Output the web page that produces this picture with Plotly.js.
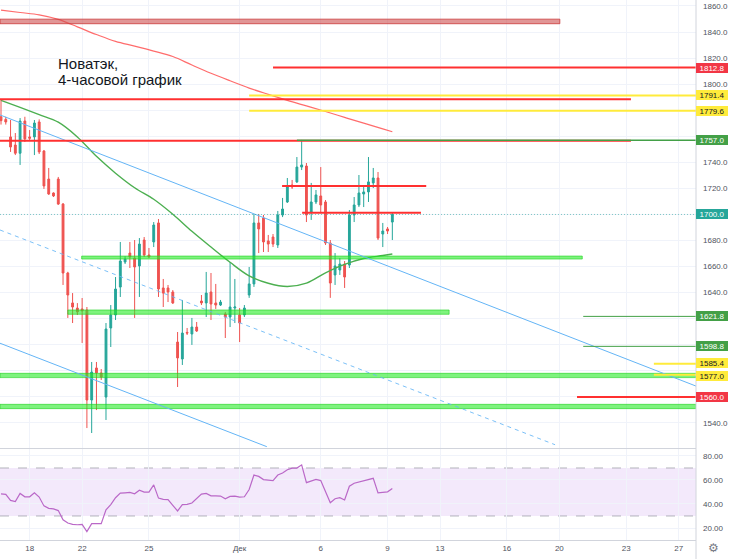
<!DOCTYPE html>
<html><head><meta charset="utf-8">
<script src="https://cdn.plot.ly/plotly-3.0.1.min.js"></script>
<style>html,body{margin:0;padding:0;background:#fff;}#chart{width:730px;height:559px;}</style>
</head><body><div id="chart"></div>
<script>
// ---- data (4h candles, Novatek) ----
const dayLabels = ['18','22','25','Дек','6','9','13','16','20','23','27'];
const dayBar    = [6,17,31,50,67,81,92,106,117,131,142];
const priceTicks = [1860,1840,1820,1800,1740,1720,1680,1660,1640,1540];
const rsiTicks = [20,40,60,80];

const open  = [1775,1773,1759.5,1753.3,1747,1771.7,1759.5,1759.5,1771,1748.7,1727.2,1716.5,1727.2,1708,1655.1,1632.1,1628.2,1627.5,1626.7,1557.6,
  1582.2,1578.4,1559.9,1612.9,1622.9,1644.3,1663.5,1670.4,1666.6,1660.5,1680.4,1668.9,1678.9,1693.5,1643.6,1643.6,1640.5,1602.1,1589.1,1609.5,
  1608.3,1613.6,1633.6,1632.1,1640.5,1632.1,1630.5,1623.6,1621.3,1628.2,1622.9,1622.9,1638.2,1646.7,1693.5,1697.3,1679.7,1682.7,1676.6,1699.6,
  1709.6,1722.6,1725,1736.4,1737.2,1701.9,1709.6,1714.2,1709.6,1678.1,1653.6,1657.4,1662,1661.2,1699.6,1707.3,1715.7,1717.3,1724.2,1728,
  1685,1688.9,1694.2];
const high  = [1788,1775,1772.5,1762.5,1774,1775,1764.8,1772.5,1773,1749.5,1735.7,1717,1728.8,1708.8,1656,1639.7,1632,1635.9,1629,1586.8,
  1586.8,1581.4,1616.7,1630.5,1652,1678.9,1668,1678.9,1680.4,1681.9,1682.7,1674.3,1694.2,1696.5,1650.5,1645.9,1642,1609.8,1634.4,1612.9,
  1620.6,1617.5,1638.2,1655.9,1655.1,1646.7,1634.4,1625.2,1663.5,1650.5,1628.2,1630.5,1659.7,1700.4,1700.4,1699.6,1684.3,1685,1702.7,1712.7,
  1728,1726.5,1744.1,1757.2,1739.5,1724.2,1718.8,1736.4,1711.1,1680.4,1670.4,1666.6,1664.3,1703.4,1713.4,1730.3,1722.6,1744.1,1735.7,1732.6,
  1693.5,1690.4,1701.2];
const low   = [1769,1769,1748,1745.6,1738,1755.6,1757,1745.6,1746.4,1719.6,1715,1713.4,1707.3,1645.9,1620.6,1616.7,1622.9,1601.4,1536.1,1532.3,
  1549.9,1573,1542.3,1598.3,1619,1636.7,1662,1658.9,1620.6,1636.7,1667.4,1666.6,1675,1636.7,1629,1632.8,1631.3,1567.6,1584.5,1607.5,
  1599.9,1609.8,1630.5,1621.3,1619,1627.5,1629.8,1605.2,1613.6,1616.7,1602.1,1621.3,1636,1644.4,1670.4,1671.2,1671.2,1675,1674.3,1698,
  1708.8,1719.6,1724.2,1734.1,1694.2,1695.8,1708,1701.9,1676.6,1636,1645.9,1653.6,1643.6,1658.9,1694.2,1705.7,1705.7,1709.6,1720.3,1680.4,
  1675,1685,1680.4];
const close = [1772,1771,1751.8,1747,1771.7,1758,1758.5,1770.2,1748,1721.9,1715.7,1714.2,1708,1655.1,1638.2,1629,1625.2,1626,1557.6,1579.1,
  1578.4,1575.3,1612.1,1622.9,1642.8,1664.3,1665.8,1667.4,1659.7,1677.3,1668.9,1667.4,1691.9,1642.8,1639.7,1640.5,1632.1,1589.9,1609,1609,
  1613.6,1610.6,1632.1,1639.7,1631.3,1630.5,1632.8,1621.3,1629,1629,1616.7,1628.2,1646.7,1693.5,1688.9,1678.9,1677.3,1677.3,1699.6,1704.2,
  1721.1,1721.1,1736.4,1738,1699.6,1709.6,1715,1707.3,1678.1,1647.4,1660.5,1662,1652,1699.6,1707.3,1716.5,1717.3,1725,1728,1681.9,
  1687.3,1687.3,1700.0];

// moving averages (every 4th bar)
const maBars  = [0,4,8,12,16,20,24,28,32,36,40,44,48,52,56,60,64,68,72,76,80,82];
const maGreen = [1787.6,1782.2,1776.6,1770.8,1759.5,1744.6,1731.7,1720.5,1711.7,1700.2,1687.1,1675,1663.3,1652.9,1647.2,1644.7,1647.3,1655.2,1661.7,1666.2,1668.5,1669.7];
const maRed   = [1856.9,1855,1853.2,1849.7,1844,1838.1,1832.8,1829.2,1825.4,1821.2,1814.7,1808.4,1802.6,1797,1792.2,1787.6,1783.3,1779,1774.5,1770.1,1765.7,1763.5];

// RSI per bar
const rsi = [48.5,48,43,42,48.8,46,46,49.3,45.8,38.4,36.4,35.9,34.5,26.8,24.1,23,22.7,23,17,23.6,
  23.6,23.6,35.1,39.5,45.2,49,49.3,49.6,48.5,51.5,49.9,49.9,55.9,44.9,43.8,43.6,38.9,34.2,39.5,39.7,
  40.8,44.4,48.2,48.8,46.8,46.8,46.6,44.4,46.3,46.6,45.8,46,52.1,64.1,63,60.3,59.7,59.5,64.1,65.8,
  68.5,69.9,69.9,72.6,57.8,59.2,60.5,59.5,49.9,41.1,44.4,45.2,43.3,54.8,57.3,58.4,59.7,60.8,61.4,49.3,
  49.6,50.1,52.9];

// drawn levels (price, from bar, to bar); null = chart edge
const redLevels    = [[1812.8,57,null],[1788.5,null,132],[1756.5,null,132],[1721.9,58.9,89.1],[1701.4,63.1,88],[1560.0,120.7,null]];
const yellowLevels = [[1791.4,52,null],[1779.6,52,null],[1585.4,136.8,null],[1577.0,136.8,null]];
const greenLevels  = [[1757.0,62,null],[1621.8,122,null],[1598.8,122,null]];
const greenZones   = [[1665.8,1668.1,16.9,121.8],[1623.4,1626.7,14,93.9],[1574.8,1578.1,null,null],[1551.0,1554.3,null,null]];
const redZones     = [[1846.4,1849.9,null,117.1]];
const trendLines   = [[null,1776.4,null,1568.3,'solid'],[null,1601.2,55.7,1521.8,'solid'],[null,1688.1,116.1,1523.3,'dash']];
const lastPrice = 1700.0;
const tags = [[1812.8,'red'],[1791.4,'yellow'],[1779.6,'yellow'],[1757.0,'green'],[1700.0,'teal'],[1621.8,'green'],[1598.8,'green'],[1585.4,'yellow'],[1577.0,'yellow'],[1560.0,'red']];
const titleLines = ['Новатэк,','4-часовой график'];

// ---- rendering ----
const XL = -0.21, XR = 145.63;
const bars = open.map((_, i) => i);
const ex = (v, d) => (v === null ? d : v);
const shapes = [];
redZones.forEach(z => shapes.push({type:'rect',xref:'x',yref:'y',x0:ex(z[2],XL),x1:ex(z[3],XR),y0:z[0],y1:z[1],
  fillcolor:'rgba(205,80,80,0.6)',line:{color:'rgba(200,50,50,0.75)',width:1},layer:'above'}));
greenZones.forEach(z => shapes.push({type:'rect',xref:'x',yref:'y',x0:ex(z[2],XL),x1:ex(z[3],XR),y0:z[0],y1:z[1],
  fillcolor:'rgba(40,235,40,0.6)',line:{color:'rgba(30,210,30,0.6)',width:1},layer:'above'}));
trendLines.forEach(t => shapes.push({type:'line',xref:'x',yref:'y',x0:ex(t[0],XL),y0:t[1],x1:ex(t[2],XR),y1:t[3],
  line:{color:t[4]==='dash'?'rgba(100,181,246,0.85)':'#64b5f6',width:1,dash:t[4]==='dash'?'4px,4px':'solid'},layer:'above'}));
shapes.push({type:'line',xref:'x',yref:'y',x0:XL,x1:XR,y0:lastPrice,y1:lastPrice,line:{color:'rgba(38,166,154,0.55)',width:1,dash:'1px,2px'},layer:'above'});
redLevels.forEach(l => shapes.push({type:'line',xref:'x',yref:'y',x0:ex(l[1],XL),x1:ex(l[2],XR),y0:l[0],y1:l[0],
  line:{color:'#ff3030',width:2},layer:'above'}));
yellowLevels.forEach(l => shapes.push({type:'line',xref:'x',yref:'y',x0:ex(l[1],XL),x1:ex(l[2],XR),y0:l[0],y1:l[0],
  line:{color:'#ffeb3b',width:2},layer:'above'}));
greenLevels.forEach((l,i) => shapes.push({type:'line',xref:'x',yref:'y',x0:ex(l[1],XL),x1:ex(l[2],XR),y0:l[0],y1:l[0],
  line:{color:'#43a047',width:i===0?1.5:1},layer:'above'}));
// RSI band
shapes.push({type:'rect',xref:'paper',yref:'y2',x0:0,x1:1,y0:30,y1:70,fillcolor:'rgba(170,100,230,0.14)',line:{width:0},layer:'below'});
[30,70].forEach(v => shapes.push({type:'line',xref:'paper',yref:'y2',x0:0,x1:1,y0:v,y1:v,line:{color:'rgba(120,123,134,0.55)',width:1,dash:'dash'},layer:'below'}));
// pane separators
shapes.push({type:'line',xref:'paper',yref:'paper',x0:0,x1:1,y0:0.1694,y1:0.1694,line:{color:'#d1d4dc',width:1}});
shapes.push({type:'line',xref:'paper',yref:'paper',x0:1,x1:1,y0:-0.036,y1:1,line:{color:'#d1d4dc',width:1}});

const tagStyle = {red:['#f23645','#fff'],yellow:['#ffeb3b','#131722'],green:['#43a047','#fff'],teal:['#26a69a','#fff']};
const tagShift = {'1585.4':1,'1577.0':-1};
const annotations = tags.map(t => ({xref:'paper',yref:'y',x:1,y:t[0],xanchor:'left',yanchor:'middle',showarrow:false,
  text:t[0].toFixed(1),bgcolor:tagStyle[t[1]][0],font:{size:8,color:tagStyle[t[1]][1],family:'Liberation Sans, Arial'},
  width:30,height:8,borderpad:1,borderwidth:0,yshift:tagShift[t[0].toFixed(1)]||0}));
annotations.push({xref:'paper',yref:'paper',x:56/696,y:1-64/540,xanchor:'left',yanchor:'middle',showarrow:false,
  text:titleLines[0],font:{size:15,color:'#131722',family:'Liberation Sans, Arial'}});
annotations.push({xref:'paper',yref:'paper',x:56/696,y:1-79.5/540,xanchor:'left',yanchor:'middle',showarrow:false,
  text:titleLines[1],font:{size:15,color:'#131722',family:'Liberation Sans, Arial'}});
annotations.push({xref:'paper',yref:'paper',x:1+17/696,y:-8/540,xanchor:'center',yanchor:'middle',showarrow:false,
  text:'⚙',font:{size:12,color:'#787b86',family:'DejaVu Sans'}});

const tickFont = {size:8,color:'#50535e',family:'Liberation Sans, Arial'};
const traces = [
  {type:'candlestick',x:bars,open:open,high:high,low:low,close:close,xaxis:'x',yaxis:'y',
   increasing:{line:{color:'#26a69a',width:1},fillcolor:'#26a69a'},
   decreasing:{line:{color:'#ef5350',width:1},fillcolor:'#ef5350'},whiskerwidth:0,hoverinfo:'skip'},
  {type:'scatter',mode:'lines',x:maBars,y:maRed,xaxis:'x',yaxis:'y',line:{color:'rgba(255,82,82,0.85)',width:1.2,shape:'spline'},hoverinfo:'skip'},
  {type:'scatter',mode:'lines',x:maBars,y:maGreen,xaxis:'x',yaxis:'y',line:{color:'#4caf50',width:1.4,shape:'spline'},hoverinfo:'skip'},
  {type:'scatter',mode:'lines',x:bars,y:rsi,xaxis:'x',yaxis:'y2',line:{color:'#ba68c8',width:1.2},hoverinfo:'skip'}
];
const layout = {
  width:730,height:559,margin:{l:0,r:34,t:0,b:19},paper_bgcolor:'#fff',plot_bgcolor:'#fff',
  showlegend:false,hovermode:false,boxgap:0.45,
  xaxis:{range:[XL,XR],anchor:'y2',tickvals:dayBar,ticktext:dayLabels,showgrid:true,gridcolor:'#f0f3fa',
    zeroline:false,ticks:'',tickfont:tickFont,showline:true,linecolor:'#d1d4dc',rangeslider:{visible:false},fixedrange:true},
  yaxis:{domain:[0.1704,1],range:[1520.8,1864.6],side:'right',anchor:'x',tickvals:priceTicks,tickformat:'.1f',
    showgrid:true,gridcolor:'#f0f3fa',zeroline:false,ticks:'',tickfont:tickFont,ticklabelstandoff:6,fixedrange:true,
    minor:{tick0:0,dtick:20,showgrid:true,gridcolor:'#f0f3fa',ticks:''}},
  yaxis2:{domain:[0,0.1685],range:[10,85.8],side:'right',anchor:'x',tickvals:rsiTicks,tickformat:'.2f',
    showgrid:true,gridcolor:'#f0f3fa',zeroline:false,ticks:'',tickfont:tickFont,ticklabelstandoff:6,fixedrange:true},
  shapes:shapes,annotations:annotations
};
Plotly.newPlot('chart',traces,layout,{displayModeBar:false,staticPlot:true});
</script></body></html>
